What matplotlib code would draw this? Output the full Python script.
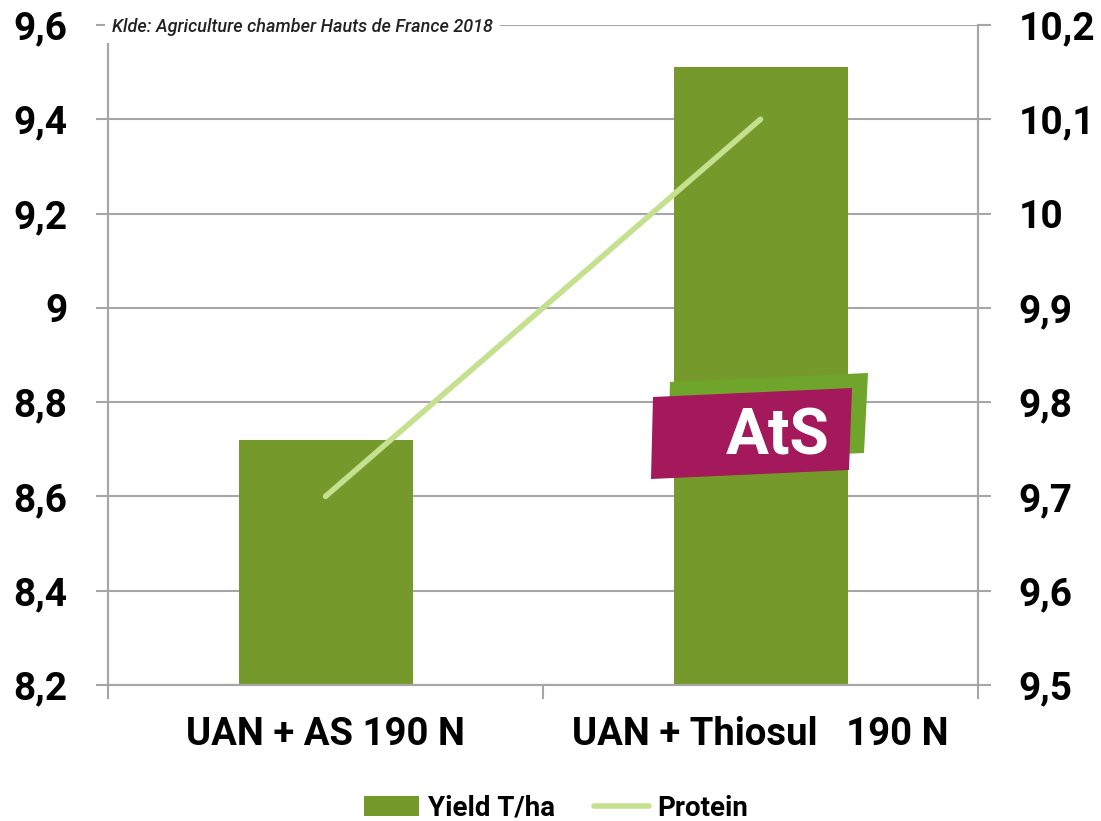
import matplotlib.pyplot as plt
from matplotlib.patches import Polygon
from matplotlib.ticker import FixedLocator, FuncFormatter

categories = ["UAN + AS 190 N", "UAN + Thiosul   190 N"]
yield_t_ha = [8.72, 9.51]
protein = [9.7, 10.1]

bar_color = "#76992B"
line_color = "#C5E08E"
grid_color = "#A6A6A6"

plt.rcParams["font.family"] = ["Roboto", "DejaVu Sans"]

fig = plt.figure(figsize=(11.01, 8.21), dpi=100)
ax = fig.add_axes([0.0981, 0.1657, 0.7902, 0.8039])
ax2 = ax.twinx()

x = list(range(len(categories)))
ax.bar(x, yield_t_ha, width=0.4, color=bar_color, zorder=2, label="Yield T/ha")
ax2.plot(x, protein, color=line_color, lw=4, solid_capstyle="round", zorder=3, label="Protein")

ax.set_xlim(-0.5, 1.5)
ax.set_ylim(8.2, 9.6)
ax2.set_ylim(9.5, 10.2)

comma = FuncFormatter(lambda v, p: ("%g" % round(v, 2)).replace(".", ","))
ax.yaxis.set_major_locator(FixedLocator([8.2, 8.4, 8.6, 8.8, 9.0, 9.2, 9.4, 9.6]))
ax.yaxis.set_major_formatter(comma)
ax2.yaxis.set_major_locator(FixedLocator([9.5, 9.6, 9.7, 9.8, 9.9, 10.0, 10.1, 10.2]))
ax2.yaxis.set_major_formatter(comma)

ax.grid(axis="y", color=grid_color, lw=1.5, zorder=0)
ax.set_axisbelow(True)

ax.set_xticks(x)
ax.set_xticklabels(categories)
ax.set_xticks([-0.5, 0.5, 1.5], minor=True)
ax.tick_params(axis="x", which="major", length=0, pad=22, labelsize=27.5)
ax.tick_params(axis="x", which="minor", length=10, color=grid_color, width=1.5)
ax.tick_params(axis="y", length=9, color=grid_color, width=1.5, pad=20, labelsize=28)
ax2.tick_params(axis="y", length=9, color=grid_color, width=1.5, pad=20, labelsize=28)
for lbl in ax.get_xticklabels() + ax.get_yticklabels() + ax2.get_yticklabels():
    lbl.set_fontweight("bold")

for a in (ax, ax2):
    a.spines["top"].set_visible(False)
    for s in ("left", "right", "bottom"):
        a.spines[s].set_color(grid_color)
        a.spines[s].set_linewidth(1.5)

# source note at top left
fig.text(0.102, 0.967, "Klde: Agriculture chamber Hauts de France 2018", fontsize=13,
         style="italic", fontweight="medium", ha="left", va="center", color="#222222",
         bbox=dict(facecolor="white", edgecolor="none", pad=5), zorder=5)

# AtS logo
def fpoly(pts, color):
    return Polygon([(px / 1101, 1 - py / 821) for px, py in pts], closed=True,
                   facecolor=color, edgecolor="none", transform=fig.transFigure, zorder=10)

fig.patches.append(fpoly([(670, 382), (868, 373), (864, 453), (668, 462)], "#6FA52B"))
fig.patches.append(fpoly([(653, 397), (852, 388), (849, 470), (651, 479)], "#A3195B"))
fig.text(778 / 1101, 1 - 437 / 821, "AtS", color="white", fontsize=46, fontweight="bold",
         ha="center", va="center", zorder=11)

h1, l1 = ax.get_legend_handles_labels()
h2, l2 = ax2.get_legend_handles_labels()
fig.legend(h1 + h2, l1 + l2, loc="lower center", bbox_to_anchor=(0.505, -0.004), ncol=2,
           frameon=False, prop=dict(weight="bold", size=20), handlelength=2.0,
           handletextpad=0.3, columnspacing=1.4, borderaxespad=0, borderpad=0.1)

fig.savefig("out.png", dpi=100)
